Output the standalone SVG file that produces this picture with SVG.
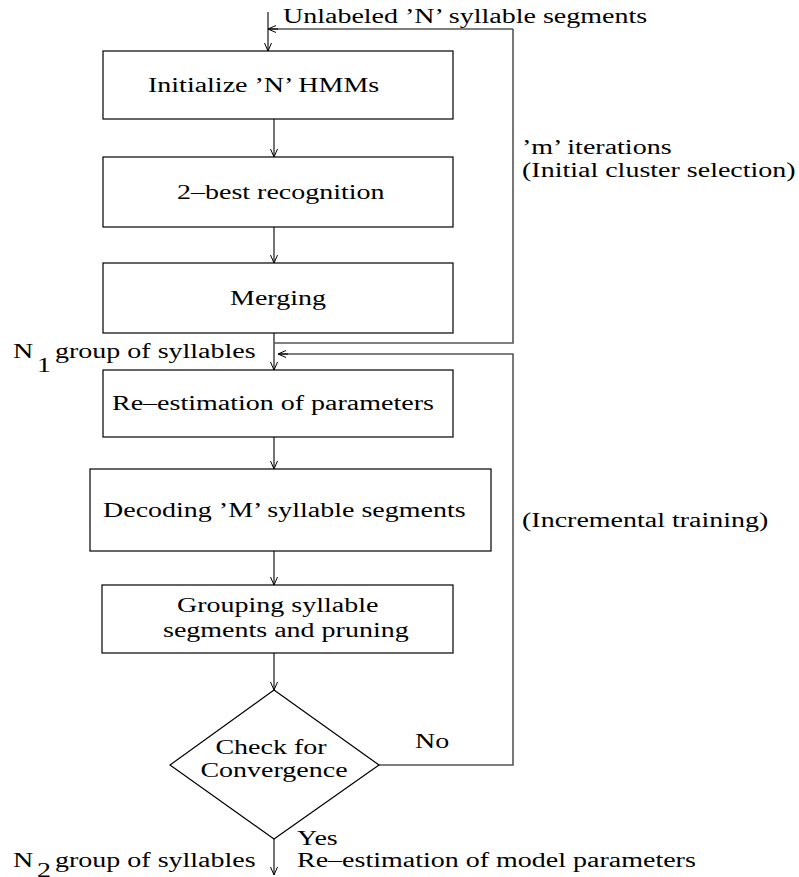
<svg xmlns="http://www.w3.org/2000/svg" width="799" height="877" viewBox="0 0 799 877">
<defs>
<marker id="arr" markerWidth="10" markerHeight="10" refX="8" refY="4" orient="auto" markerUnits="userSpaceOnUse">
<path d="M0,0.5 L8,4 L0,7.5" fill="none" stroke="#000" stroke-width="1"/>
</marker>
</defs>
<style>
text{font-family:"Liberation Serif","Times New Roman",serif;font-size:20px;fill:#000}
.c{text-anchor:middle}
.box{fill:#fff;stroke:#000;stroke-width:1.2}
.ln{fill:none;stroke:#000;stroke-width:1.1}
.fb{fill:none;stroke:#555;stroke-width:1.6}
</style>
<rect width="799" height="877" fill="#fff"/>
<g id="connectors">
<line class="ln" x1="268" y1="12" x2="268" y2="51" marker-end="url(#arr)"/>
<path class="fb" d="M513,29 H270"/>
<path class="ln" d="M278,29 H268" marker-end="url(#arr)"/>
<line class="ln" x1="274" y1="119" x2="274" y2="157" marker-end="url(#arr)"/>
<line class="ln" x1="274" y1="227" x2="274" y2="263" marker-end="url(#arr)"/>
<line class="ln" x1="274" y1="333" x2="274" y2="370" marker-end="url(#arr)"/>
<path class="fb" d="M513,29 V343 H274"/>
<path class="fb" d="M379,765 H513 V354 H280"/>
<path class="ln" d="M288,354 H278" marker-end="url(#arr)"/>
<line class="ln" x1="274" y1="437" x2="274" y2="469" marker-end="url(#arr)"/>
<line class="ln" x1="274" y1="551" x2="274" y2="585" marker-end="url(#arr)"/>
<line class="ln" x1="274" y1="653" x2="274" y2="690" marker-end="url(#arr)"/>
<line class="ln" x1="274" y1="839" x2="274" y2="875" marker-end="url(#arr)"/>
</g>
<g id="n_init"><rect class="box" x="103" y="51" width="350" height="68"/><text transform="matrix(1.4 0 0 1 148 92)">Initialize ’N’ HMMs</text></g>
<g id="n_2best"><rect class="box" x="103" y="157" width="350" height="70"/><text transform="matrix(1.4 0 0 1 177 199)">2–best recognition</text></g>
<g id="n_merge"><rect class="box" x="103" y="263" width="350" height="70"/><text class="c" transform="matrix(1.4 0 0 1 278 305)">Merging</text></g>
<g id="n_reest"><rect class="box" x="103" y="370" width="350" height="67"/><text transform="matrix(1.4 0 0 1 112 410)">Re–estimation of parameters</text></g>
<g id="n_decode"><rect class="box" x="90" y="469" width="401" height="82"/><text transform="matrix(1.4 0 0 1 103 517)">Decoding ’M’ syllable segments</text></g>
<g id="n_group"><rect class="box" x="102" y="585" width="351" height="68"/><text transform="matrix(1.4 0 0 1 177 612)">Grouping syllable</text><text transform="matrix(1.4 0 0 1 163 637)">segments and pruning</text></g>
<g id="n_check"><polygon class="box" points="274,690 379,765 274,839 170,765"/><text class="c" transform="matrix(1.4 0 0 1 271 754)">Check for</text><text class="c" transform="matrix(1.4 0 0 1 274 777)">Convergence</text></g>
<g id="labels">
<text transform="matrix(1.4 0 0 1 283 23)">Unlabeled ’N’ syllable segments</text>
<text transform="matrix(1.4 0 0 1 522 154)">’m’ iterations</text>
<text transform="matrix(1.4 0 0 1 522 177)">(Initial cluster selection)</text>
<text transform="matrix(1.4 0 0 1 522 527)">(Incremental training)</text>
<text transform="matrix(1.4 0 0 1 13 358)">N</text><text transform="matrix(1.4 0 0 1 37 372)">1</text><text transform="matrix(1.4 0 0 1 55 358)">group of syllables</text>
<text transform="matrix(1.4 0 0 1 415 748)">No</text>
<text transform="matrix(1.4 0 0 1 297 845)">Yes</text>
<text transform="matrix(1.4 0 0 1 297 867)">Re–estimation of model parameters</text>
<text transform="matrix(1.4 0 0 1 13 867)">N</text><text transform="matrix(1.4 0 0 1 37 877)">2</text><text transform="matrix(1.4 0 0 1 55 867)">group of syllables</text>
</g>
</svg>
